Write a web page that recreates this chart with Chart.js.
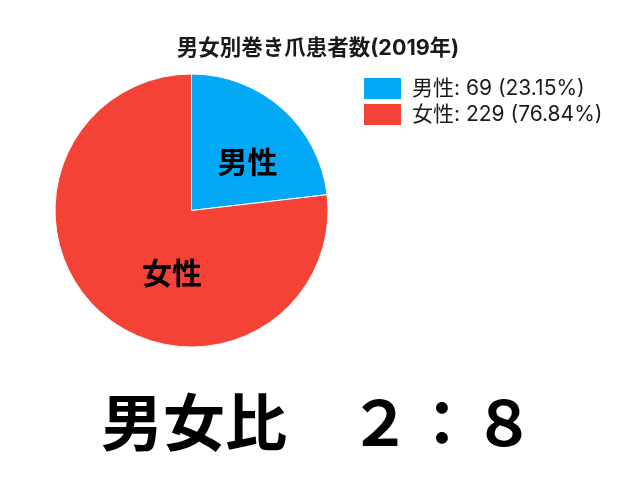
<!DOCTYPE html>
<html>
<head>
<meta charset="utf-8">
<script src="https://cdn.jsdelivr.net/npm/chart.js@4.4.0/dist/chart.umd.min.js"></script>
<style>
  html, body { margin: 0; padding: 0; background: #ffffff; }
  #wrap { width: 640px; height: 480px; position: relative; }
</style>
</head>
<body>
<div id="wrap"><canvas id="c" width="640" height="480"></canvas></div>
<script>
// ---- data ----
const categories = ['男性', '女性'];
const patientCounts = [69, 229];
const sliceColors = ['#03A9F4', '#F44336'];
const chartTitle = '男女別巻き爪患者数(2019年)';
const ratioText = '男女比　２：８';

// ---- helpers ----
const FONT = '"Noto Sans CJK JP", "Noto Sans", sans-serif';
const TEXT_FONT = 'Inter, "Noto Sans CJK JP", sans-serif';
const total = patientCounts.reduce((a, b) => a + b, 0);
function pctText(v) { return (Math.floor(v / total * 10000) / 100).toFixed(2) + '%'; }

const sliceLabelPlugin = {
  id: 'sliceLabels',
  afterDatasetsDraw(chart, args, opts) {
    const meta = chart.getDatasetMeta(0);
    const ctx = chart.ctx;
    ctx.save();
    ctx.font = 'bold 30px ' + FONT;
    ctx.fillStyle = '#000000';
    ctx.textAlign = 'center';
    ctx.textBaseline = 'middle';
    meta.data.forEach((arc, i) => {
      const p = arc.getProps(['x', 'y', 'outerRadius'], true);
      const pl = opts.placement[i];
      const a = pl.angle * Math.PI / 180;
      ctx.fillText(categories[i], p.x + Math.cos(a) * pl.r * p.outerRadius,
                                  p.y + Math.sin(a) * pl.r * p.outerRadius);
    });
    ctx.restore();
  }
};

const ratioPlugin = {
  id: 'ratioText',
  afterDraw(chart, args, opts) {
    const ctx = chart.ctx;
    ctx.save();
    ctx.font = 'bold 62px ' + FONT;
    ctx.fillStyle = '#000000';
    ctx.textAlign = 'center';
    ctx.textBaseline = 'middle';
    ctx.fillText(opts.text, chart.width / 2 + opts.dx, opts.y);
    ctx.restore();
  }
};

const chart = new Chart(document.getElementById('c'), {
  type: 'pie',
  data: {
    labels: categories,
    datasets: [{
      data: patientCounts,
      backgroundColor: sliceColors,
      borderColor: '#ffffff',
      borderWidth: 1,
      hoverOffset: 0,
      offset: 0
    }]
  },
  options: {
    responsive: false,
    animation: false,
    layout: { padding: { top: 26.5, left: 23.5, bottom: 132.5, right: 40 } },
    plugins: {
      title: {
        display: true,
        text: chartTitle,
        color: '#1a1a1a',
        font: { family: TEXT_FONT, size: 21.5, weight: 'bold' },
        padding: { top: 9.1, bottom: 12.1 }
      },
      legend: {
        position: 'right',
        align: 'start',
        fullSize: false,
        labels: {
          boxWidth: 38,
          boxHeight: 22,
          padding: 4,
          color: '#1a1a1a',
          font: { family: TEXT_FONT, size: 21 },
          generateLabels(ch) {
            const items = Chart.overrides.pie.plugins.legend.labels.generateLabels(ch);
            items.forEach((it, i) => {
              it.text = categories[i] + ': ' + patientCounts[i] + ' (' + pctText(patientCounts[i]) + ')';
            });
            return items;
          }
        }
      },
      tooltip: { enabled: false },
      sliceLabels: { placement: [ { angle: -41.2, r: 0.545 }, { angle: 107.5, r: 0.476 } ] },
      ratioText: { text: ratioText, dx: -2, y: 422.5 }
    }
  },
  plugins: [sliceLabelPlugin, ratioPlugin]
});

// place the legend so that the pie area ends where the legend begins
const legendLeftTarget = 359.5;
chart.options.layout.padding.right = 640 - legendLeftTarget - chart.legend.width;
chart.update('none');
</script>
</body>
</html>
